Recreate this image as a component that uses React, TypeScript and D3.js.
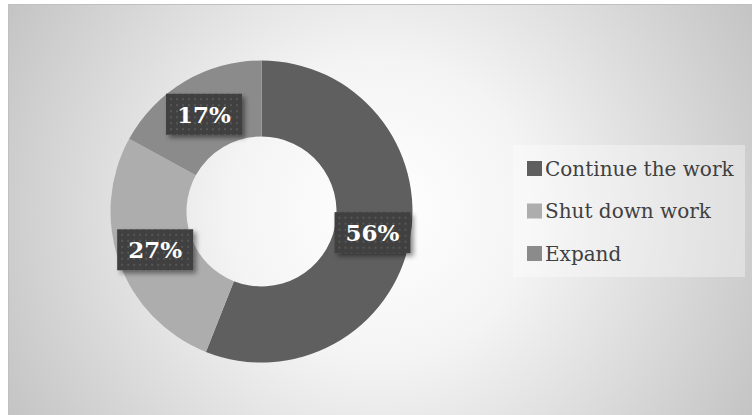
import React from "react";
import * as d3 from "d3";

const categories = ["Continue the work", "Shut down work", "Expand"];
const values = [56, 27, 17];
const labels = ["56%", "27%", "17%"];
const colors = ["#5f5f5f", "#adadad", "#8b8b8b"];

const W = 752;
const H = 415;
const cx = 261.5;
const cy = 211.5;
const rOuter = 151;
const rInner = 75;

export default function App() {
  const pie = d3.pie<number>().sort(null).value((d) => d)(values);
  const arc = d3.arc<d3.PieArcDatum<number>>().innerRadius(rInner).outerRadius(rOuter);
  const mid = d3.arc<d3.PieArcDatum<number>>().innerRadius((rInner + rOuter) / 2).outerRadius((rInner + rOuter) / 2);
  const font = "'DejaVu Serif', serif";
  const legendY = d3.scalePoint<string>().domain(categories).range([169, 254]);

  return (
    <svg width={W} height={H} style={{ position: "absolute", left: 0, top: 0, display: "block" }}>
      <defs>
        <radialGradient id="bg" cx="380" cy="210" r="430" gradientUnits="userSpaceOnUse">
          <stop offset="0" stopColor="#ffffff" />
          <stop offset="0.35" stopColor="#f4f4f4" />
          <stop offset="1" stopColor="#c3c3c3" />
        </radialGradient>
        <pattern id="dots" width="6" height="6" patternUnits="userSpaceOnUse">
          <rect width="6" height="6" fill="#3f3f3f" />
          <rect x="2" y="2" width="2" height="2" fill="#575757" />
        </pattern>
        <filter id="shadow" x="-20%" y="-20%" width="150%" height="160%">
          <feDropShadow dx="3" dy="3" stdDeviation="2.5" floodColor="#000" floodOpacity="0.45" />
        </filter>
      </defs>
      <rect x={8.5} y={4.5} width={W} height={H} fill="url(#bg)" stroke="#c0c0c0" strokeWidth={1} />
      <g transform={`translate(${cx},${cy})`}>
        {pie.map((d, i) => (
          <path key={i} d={arc(d) || ""} fill={colors[i]} />
        ))}
        {pie.map((d, i) => {
          const [x, y] = mid.centroid(d);
          return (
            <g key={"l" + i} transform={`translate(${x},${y})`}>
              <rect x={-38} y={-20.5} width={76} height={41} fill="url(#dots)" filter="url(#shadow)" />
              <text
                x={0}
                y={8.5}
                textAnchor="middle"
                fill="#ffffff"
                fontFamily={font}
                fontWeight="bold"
                fontSize={23}
              >
                {labels[i]}
              </text>
            </g>
          );
        })}
      </g>
      <rect x={513} y={145} width={232} height={132} fill="#ffffff" fillOpacity={0.35} />
      {categories.map((c, i) => {
        const y = legendY(c) as number;
        return (
          <g key={c}>
            <rect x={527} y={y - 8} width={15} height={15} fill={colors[i]} />
            <text x={545} y={y + 6.5} fill="#404040" fontFamily={font} fontSize={20}>
              {c}
            </text>
          </g>
        );
      })}
    </svg>
  );
}
